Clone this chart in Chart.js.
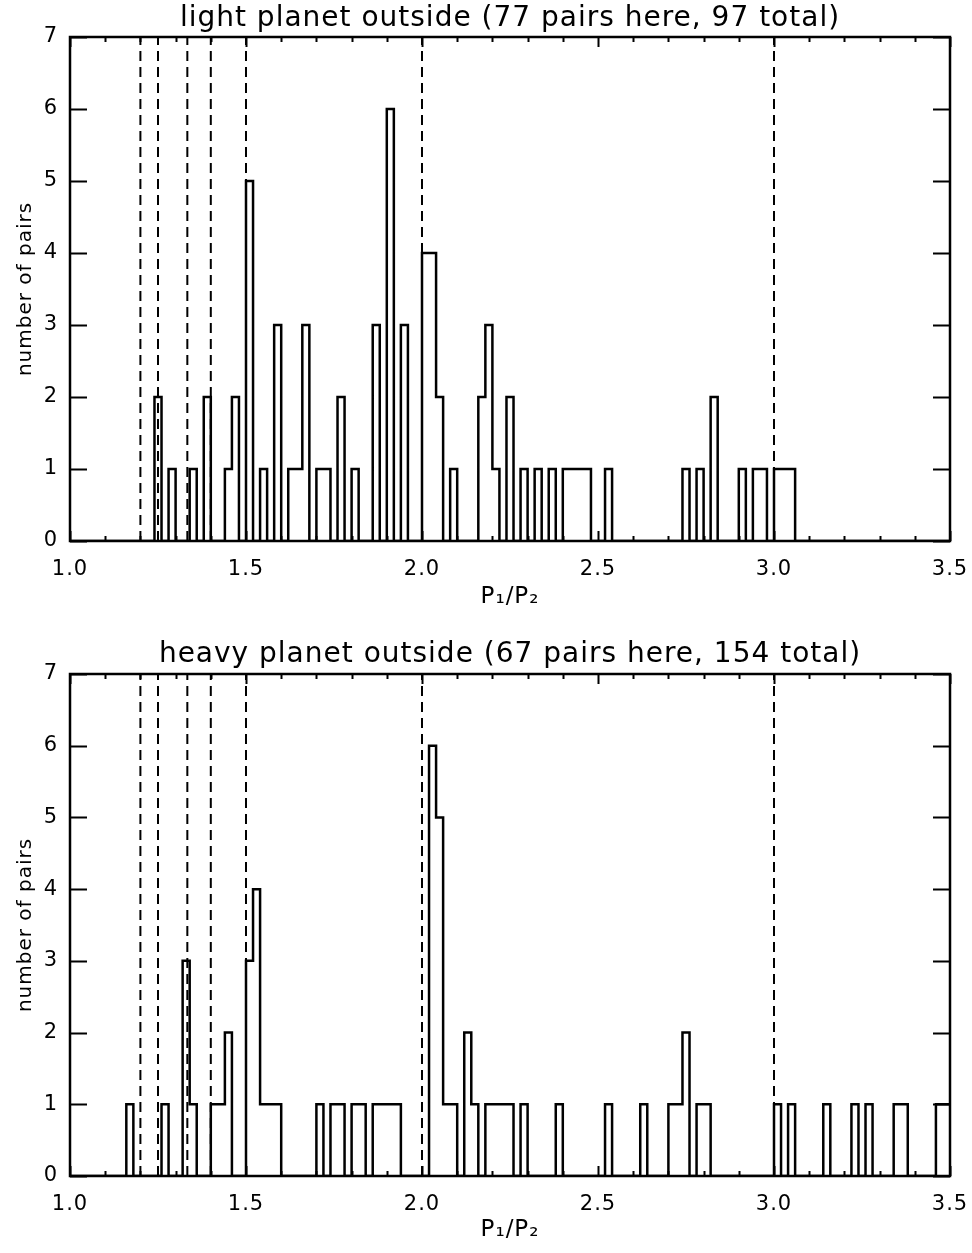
<!DOCTYPE html>
<html>
<head>
<meta charset="utf-8">
<script src="https://cdn.jsdelivr.net/npm/chart.js@4.4.1/dist/chart.umd.min.js"></script>
<style>
  html, body { margin: 0; padding: 0; background: #fff; }
  body { width: 972px; height: 1253px; overflow: hidden; position: relative; }
  .panel { position: absolute; left: 0; width: 972px; }
</style>
</head>
<body>
<div class="panel" style="top:0;height:625px"><canvas id="c1"></canvas></div>
<div class="panel" style="top:625px;height:628px"><canvas id="c2"></canvas></div>
<script>
// ---- data (bin left edges, width 0.02) ----
const binWidth = 0.02;
const xMin = 1.0, xMax = 3.5;

const lightBins   = [1.24,1.28,1.34,1.38,1.44,1.46,1.50,1.54,1.58,1.62,1.64,1.66,1.70,1.72,1.76,1.80,1.86,1.90,1.94,2.00,2.02,2.04,2.08,2.16,2.18,2.20,2.24,2.28,2.32,2.36,2.40,2.42,2.44,2.46,2.52,2.74,2.78,2.82,2.90,2.94,2.96,3.00,3.02,3.04];
const lightCounts = [2,   1,   1,   2,   1,   2,   5,   1,   3,   1,   1,   3,   1,   1,   2,   1,   3,   6,   3,   4,   4,   2,   1,   2,   3,   1,   2,   1,   1,   1,   1,   1,   1,   1,   1,   1,   1,   2,   1,   1,   1,   1,   1,   1];

const heavyBins   = [1.16,1.26,1.32,1.34,1.40,1.42,1.44,1.50,1.52,1.54,1.56,1.58,1.70,1.74,1.76,1.80,1.82,1.86,1.88,1.90,1.92,2.02,2.04,2.06,2.08,2.12,2.14,2.18,2.20,2.22,2.24,2.28,2.38,2.52,2.62,2.70,2.72,2.74,2.78,2.80,3.00,3.04,3.14,3.22,3.26,3.34,3.36,3.46,3.48];
const heavyCounts = [1,   1,   3,   1,   1,   1,   2,   3,   4,   1,   1,   1,   1,   1,   1,   1,   1,   1,   1,   1,   1,   6,   5,   1,   1,   2,   1,   1,   1,   1,   1,   1,   1,   1,   1,   1,   1,   2,   1,   1,   1,   1,   1,   1,   1,   1,   1,   1,   1];

const resonances = [1.2, 1.25, 4/3, 1.4, 1.5, 2.0, 3.0];
const xTickValues = [1.0, 1.5, 2.0, 2.5, 3.0, 3.5];
const yTickValues = [0, 1, 2, 3, 4, 5, 6, 7];

const lightTitle = 'light planet outside (77 pairs here, 97 total)';
const heavyTitle = 'heavy planet outside (67 pairs here, 154 total)';
const xTitle = 'P\u2081/P\u2082';
const yTitle = 'number of pairs';

// ---- build step outline points from the bin lists ----
function stepPoints(bins, counts) {
  const n = Math.round((xMax - xMin) / binWidth);
  const full = new Array(n).fill(0);
  bins.forEach((b, i) => { full[Math.round((b - xMin) / binWidth)] = counts[i]; });
  const pts = full.map((c, i) => ({ x: xMin + i * binWidth, y: c }));
  pts.push({ x: xMax, y: full[n - 1] });
  return pts;
}

const FONT = 'DejaVu Sans';

const spacing = {
  id: 'spacing',
  beforeUpdate(chart) { chart.ctx.letterSpacing = '1px'; },
  beforeDraw(chart) { chart.ctx.letterSpacing = '1px'; }
};

const frameTicks = {
  id: 'frameTicks',
  afterDatasetsDraw(chart) {
    const { ctx, chartArea: a, scales: { x, y } } = chart;
    ctx.save();
    ctx.strokeStyle = '#000';
    ctx.lineWidth = 2.5;
    ctx.strokeRect(a.left, a.top, a.right - a.left, a.bottom - a.top);
    ctx.lineWidth = 2;
    ctx.beginPath();
    for (let k = 0; k <= 25; k++) {
      const v = xMin + k * 0.1;
      const px = Math.round(x.getPixelForValue(v)) + 0.5;
      const len = (k % 5 === 0) ? 10 : 5;
      ctx.moveTo(px, a.bottom); ctx.lineTo(px, a.bottom - len);
      ctx.moveTo(px, a.top);    ctx.lineTo(px, a.top + len);
    }
    yTickValues.forEach(v => {
      const py = Math.round(y.getPixelForValue(v)) + 0.5;
      ctx.moveTo(a.left, py);  ctx.lineTo(a.left + 17, py);
      ctx.moveTo(a.right, py); ctx.lineTo(a.right - 17, py);
    });
    ctx.stroke();
    ctx.restore();
  }
};

function makeChart(id, title, bins, counts, titlePad, xHeight, xTitlePadBottom) {
  const datasets = [];
  resonances.forEach(r => {
    datasets.push({
      data: [{ x: r, y: 0 }, { x: r, y: 7 }],
      borderColor: '#000', borderWidth: 2, borderDash: [10, 6],
      pointRadius: 0, fill: false
    });
  });
  datasets.push({
    data: stepPoints(bins, counts),
    borderColor: '#000', borderWidth: 2.5, stepped: 'before',
    pointRadius: 0, fill: false
  });
  return new Chart(document.getElementById(id), {
    type: 'line',
    data: { datasets },
    plugins: [spacing, frameTicks],
    options: {
      animation: false,
      responsive: true,
      maintainAspectRatio: false,
      devicePixelRatio: 1,
      layout: { padding: { left: 0, right: 22, top: 0, bottom: 0 } },
      plugins: {
        legend: { display: false },
        tooltip: { enabled: false },
        title: {
          display: true, text: title, color: '#000', fullSize: false,
          font: { family: FONT, size: 28, weight: 'normal', lineHeight: 1.2 },
          padding: titlePad
        }
      },
      scales: {
        x: {
          type: 'linear', min: xMin, max: xMax,
          grid: { display: false, drawTicks: false },
          border: { display: false },
          afterBuildTicks: s => { s.ticks = xTickValues.map(v => ({ value: v })); },
          afterFit: s => { s.height = xHeight; s.paddingLeft = 0; s.paddingRight = 0; },
          ticks: {
            color: '#000', padding: 16, maxRotation: 0,
            font: { family: FONT, size: 21 },
            callback: v => Number(v).toFixed(1)
          },
          title: {
            display: true, text: xTitle, color: '#000',
            font: { family: FONT, size: 23, lineHeight: 1.2 },
            padding: { top: 0, bottom: xTitlePadBottom }
          }
        },
        y: {
          type: 'linear', min: 0, max: 7,
          grid: { display: false, drawTicks: false },
          border: { display: false },
          afterBuildTicks: s => { s.ticks = yTickValues.map(v => ({ value: v })); },
          afterFit: s => { s.width = 70; },
          ticks: {
            color: '#000', padding: 12,
            font: { family: FONT, size: 21 }
          },
          title: {
            display: true, text: yTitle, color: '#000',
            font: { family: FONT, size: 20, lineHeight: 1.2 },
            padding: { top: 14, bottom: 0 }
          }
        }
      }
    }
  });
}

makeChart('c1', lightTitle, lightBins, lightCounts, { top: 2, bottom: 1.4 }, 84, 14);
makeChart('c2', heavyTitle, heavyBins, heavyCounts, { top: 13.2, bottom: 2.2 }, 77, 9);
</script>
</body>
</html>
